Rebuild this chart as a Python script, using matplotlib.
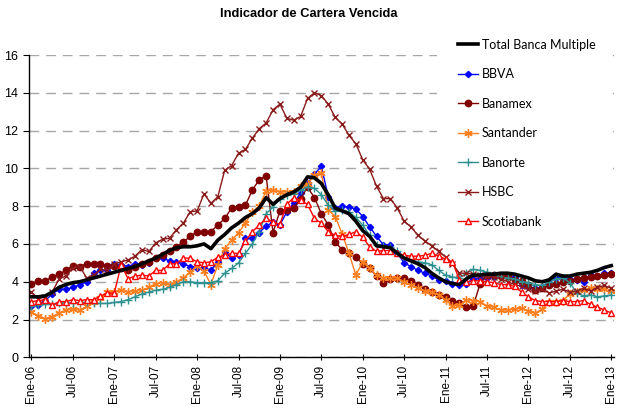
import matplotlib.pyplot as plt
from matplotlib import font_manager
from matplotlib.patches import Rectangle

meses = list(range(85))
etiquetas = ["Ene-06", "Jul-06", "Ene-07", "Jul-07", "Ene-08", "Jul-08", "Ene-09", "Jul-09",
             "Ene-10", "Jul-10", "Ene-11", "Jul-11", "Ene-12", "Jul-12", "Ene-13"]

total = [3.2, 3.2, 3.25, 3.45, 3.7, 3.85, 3.95, 4.0, 4.1, 4.2,
         4.3, 4.4, 4.5, 4.6, 4.7, 4.8, 4.95, 5.1, 5.25, 5.45,
         5.65, 5.8, 5.85, 5.85, 5.9, 6.0, 5.75, 6.2, 6.5, 6.85,
         7.1, 7.4, 7.6, 7.9, 8.45, 8.1, 8.4, 8.6, 8.75, 9.0,
         9.55, 9.5, 9.2, 8.6, 7.9, 7.75, 7.6, 7.2, 6.7, 6.4,
         5.9, 5.85, 5.8, 5.5, 5.25, 5.1, 4.95, 4.75, 4.45, 4.2,
         4.0, 3.9, 3.85, 4.15, 4.35, 4.35, 4.4, 4.4, 4.45, 4.45,
         4.4, 4.3, 4.2, 4.05, 4.0, 4.1, 4.4, 4.3, 4.3, 4.4,
         4.45, 4.5, 4.6, 4.75, 4.85]

bbva = [2.7, 2.75, 3.0, 3.35, 3.6, 3.6, 3.7, 3.85, 4.0, 4.45,
        4.6, 4.6, 4.95, 4.9, 4.8, 4.95, 4.9, 5.0, 5.25, 5.25,
        5.1, 5.05, 4.95, 4.8, 4.75, 4.75, 4.6, 5.05, 5.55, 5.25,
        5.4, 6.3, 6.3, 6.6, 6.95, 7.15, 7.0, 7.7, 8.15, 8.7,
        9.2, 9.7, 10.1, 8.5, 7.9, 8.0, 7.95, 7.85, 7.45, 6.9,
        6.4, 5.95, 5.95, 5.5, 5.0, 4.8, 4.6, 4.45, 4.3, 4.1,
        4.05, 3.9, 3.85, 3.9, 4.15, 4.2, 4.2, 4.25, 4.3, 4.3,
        4.25, 3.8, 3.7, 3.65, 3.7, 3.95, 4.2, 4.2, 4.15, 4.1,
        4.0, 4.35, 4.3, 4.45, 4.45]

banamex = [3.9, 4.05, 4.05, 4.25, 4.4, 4.6, 4.85, 4.8, 4.95, 4.95,
           4.95, 4.85, 4.85, 4.7, 4.6, 4.8, 4.95, 5.05, 5.25, 5.4,
           5.6, 5.85, 6.1, 6.4, 6.65, 6.65, 6.65, 7.0, 7.35, 7.9,
           7.95, 8.05, 8.85, 9.4, 9.6, 6.6, 7.75, 7.8, 7.9, 8.4,
           9.0, 8.45, 7.6, 7.0, 6.1, 5.7, 5.5, 5.3, 4.95, 4.7,
           4.3, 3.95, 4.15, 4.2, 4.2, 4.05, 3.85, 3.6, 3.45, 3.3,
           3.2, 3.0, 2.85, 2.65, 2.7, 3.9, 4.35, 4.35, 4.3, 4.3,
           4.1, 4.05, 3.8, 3.55, 3.65, 3.85, 3.9, 4.0, 4.05, 4.15,
           4.2, 4.25, 4.3, 4.35, 4.4]

santander = [2.4, 2.2, 2.05, 2.15, 2.35, 2.5, 2.55, 2.5, 2.7, 2.9,
             3.15, 3.45, 3.45, 3.55, 3.45, 3.5, 3.55, 3.7, 3.9, 3.95,
             3.85, 4.0, 4.2, 4.5, 4.85, 4.55, 3.85, 4.9, 5.75, 6.2,
             6.6, 7.1, 7.7, 8.0, 8.8, 8.85, 8.75, 8.75, 8.75, 9.05,
             9.15, 9.65, 9.75, 7.8, 7.45, 6.55, 5.5, 4.35, 5.05, 4.7,
             4.35, 4.2, 4.2, 4.2, 4.0, 3.8, 3.65, 3.5, 3.45, 3.3,
             3.05, 2.7, 2.75, 3.05, 3.0, 2.95, 2.7, 2.65, 2.5, 2.5,
             2.55, 2.6, 2.45, 2.35, 2.55, 2.9, 2.95, 3.0, 3.35, 3.45,
             3.55, 3.65, 3.6, 3.6, 3.5]

banorte = [2.7, 2.75, 2.8, 2.8, 2.85, 2.9, 2.85, 2.9, 2.9, 2.85,
           2.85, 2.85, 2.9, 2.95, 3.05, 3.2, 3.35, 3.45, 3.55, 3.6,
           3.7, 3.85, 4.0, 4.0, 3.95, 3.95, 3.95, 4.05, 4.45, 4.7,
           5.0, 5.5, 6.0, 6.65, 7.6, 7.95, 8.4, 8.6, 8.65, 8.85,
           9.0, 8.95, 8.6, 8.05, 7.75, 7.8, 7.7, 7.4, 7.0, 6.45,
           5.95, 5.9, 5.85, 5.6, 5.35, 5.15, 5.05, 5.0, 4.9, 4.6,
           4.35, 4.25, 4.2, 4.45, 4.65, 4.6, 4.5, 4.35, 4.25, 4.2,
           4.15, 4.0, 3.95, 3.85, 3.8, 4.0, 4.15, 4.2, 3.95, 3.4,
           3.25, 3.3, 3.2, 3.25, 3.3]

hsbc = [3.45, 3.1, 3.2, 3.45, 4.15, 4.3, 4.75, 4.8, 4.2, 4.35,
        4.65, 4.6, 4.95, 5.05, 5.15, 5.35, 5.7, 5.6, 6.05, 6.25,
        6.3, 6.75, 7.1, 7.7, 7.75, 8.65, 8.15, 8.5, 9.9, 10.15,
        10.8, 11.0, 11.6, 12.1, 12.4, 13.1, 13.4, 12.65, 12.55, 12.75,
        13.7, 14.0, 13.85, 13.4, 12.7, 12.35, 11.75, 11.3, 10.45, 9.95,
        9.05, 8.4, 8.4, 7.9, 7.2, 6.9, 6.45, 6.15, 5.9, 5.6,
        5.3, 4.95, 4.45, 4.45, 4.4, 4.35, 4.3, 4.25, 4.15, 4.0,
        3.85, 3.75, 3.6, 3.5, 3.6, 3.4, 3.5, 3.6, 3.45, 3.5,
        3.65, 3.5, 3.7, 3.8, 3.65]

scotiabank = [2.95, 3.0, 3.05, 2.75, 2.95, 2.95, 3.05, 3.0, 3.05, 3.05,
              3.25, 3.4, 3.4, 4.9, 4.15, 4.3, 4.35, 4.3, 4.6, 4.6,
              4.95, 4.95, 5.25, 5.25, 5.05, 5.0, 5.05, 5.3, 5.4, 5.5,
              5.5, 6.15, 6.65, 7.0, 7.35, 7.15, 7.05, 8.1, 8.45, 8.3,
              8.1, 7.35, 7.1, 6.65, 6.45, 6.4, 6.5, 6.65, 6.35, 5.85,
              5.6, 5.65, 5.65, 5.5, 5.4, 5.35, 5.35, 5.4, 5.5, 5.35,
              5.2, 5.05, 4.1, 4.0, 4.05, 4.05, 4.0, 3.95, 3.85, 3.85,
              3.75, 3.45, 3.2, 3.0, 2.95, 2.95, 2.95, 3.0, 2.95, 2.95,
              3.0, 2.8, 2.65, 2.5, 2.35]

plt.rcParams['font.family'] = ['Liberation Sans', 'DejaVu Sans']

# fuente angosta para el titulo, si existe
nombres = {f.name for f in font_manager.fontManager.ttflist}
if "Liberation Sans Narrow" in nombres:
    fuente_titulo, tam_titulo = ["Liberation Sans Narrow", "Liberation Sans"], 11
else:
    fuente_titulo, tam_titulo = ["Liberation Sans", "DejaVu Sans"], 9.3

fig = plt.figure(figsize=(6.18, 4.12), dpi=100)
ax = fig.add_axes([28.7 / 618, 0.1328, (614 - 28.7) / 618, 0.7337])

ax.plot(meses, total, color="black", lw=2.6, label="Total Banca Multiple", zorder=9)
ax.plot(meses, bbva, color="#0000ff", lw=1, marker="D", ms=3.2, label="BBVA")
ax.plot(meses, banamex, color="#800000", lw=1, marker="o", ms=4.6, label="Banamex")
ax.plot(meses, santander, color="#ff7f1f", lw=1, marker=(6, 2, 0), ms=6, mew=1, label="Santander")
ax.plot(meses, banorte, color="#2e9191", lw=1, marker="+", ms=6, mew=1, label="Banorte")
ax.plot(meses, hsbc, color="#8b1a1a", lw=1, marker="x", ms=5, mew=1, label="HSBC")
ax.plot(meses, scotiabank, color="#ff0000", lw=1, marker="^", ms=5, mfc="white", mew=1,
        label="Scotiabank")

ax.set_xlim(-0.4, 84.4)
ax.set_ylim(0, 16)
ax.set_yticks(range(0, 17, 2))
ax.set_xticks(range(0, 85, 6))
ax.set_xticklabels(etiquetas, rotation=90, fontsize=8.5)
ax.tick_params(axis="y", labelsize=9, length=4, width=0.8, direction="out")
ax.tick_params(axis="x", length=4, width=0.8, direction="inout")
ax.grid(axis="y", color="#a6a6a6", linestyle=(0, (7, 5)), lw=1)
ax.set_axisbelow(True)
for lado in ["top", "right"]:
    ax.spines[lado].set_visible(False)
ax.spines["left"].set_linewidth(1)
ax.spines["bottom"].set_linewidth(1)

# fondo blanco del cuadro de leyenda
fondo = Rectangle((437 / 618, 1 - 236 / 412), (610 - 437) / 618, (236 - 32) / 412,
                  transform=fig.transFigure, facecolor="white", edgecolor="none", zorder=1)
fig.patches.append(fondo)

leg = fig.legend(loc="upper left", bbox_to_anchor=(454 / 618, 1 - 35 / 412), frameon=False,
                 prop={"family": ["Lato", "DejaVu Sans"], "size": 9},
                 handlelength=1.6, handletextpad=0.3, labelspacing=1.4,
                 borderpad=0.3, borderaxespad=0)
leg.set_zorder(20)

fig.text(0.5, 0.965, "Indicador de Cartera Vencida", ha="center", va="center",
         fontsize=tam_titulo, fontweight="bold", family=fuente_titulo)

fig.savefig("out.png", dpi=100)
